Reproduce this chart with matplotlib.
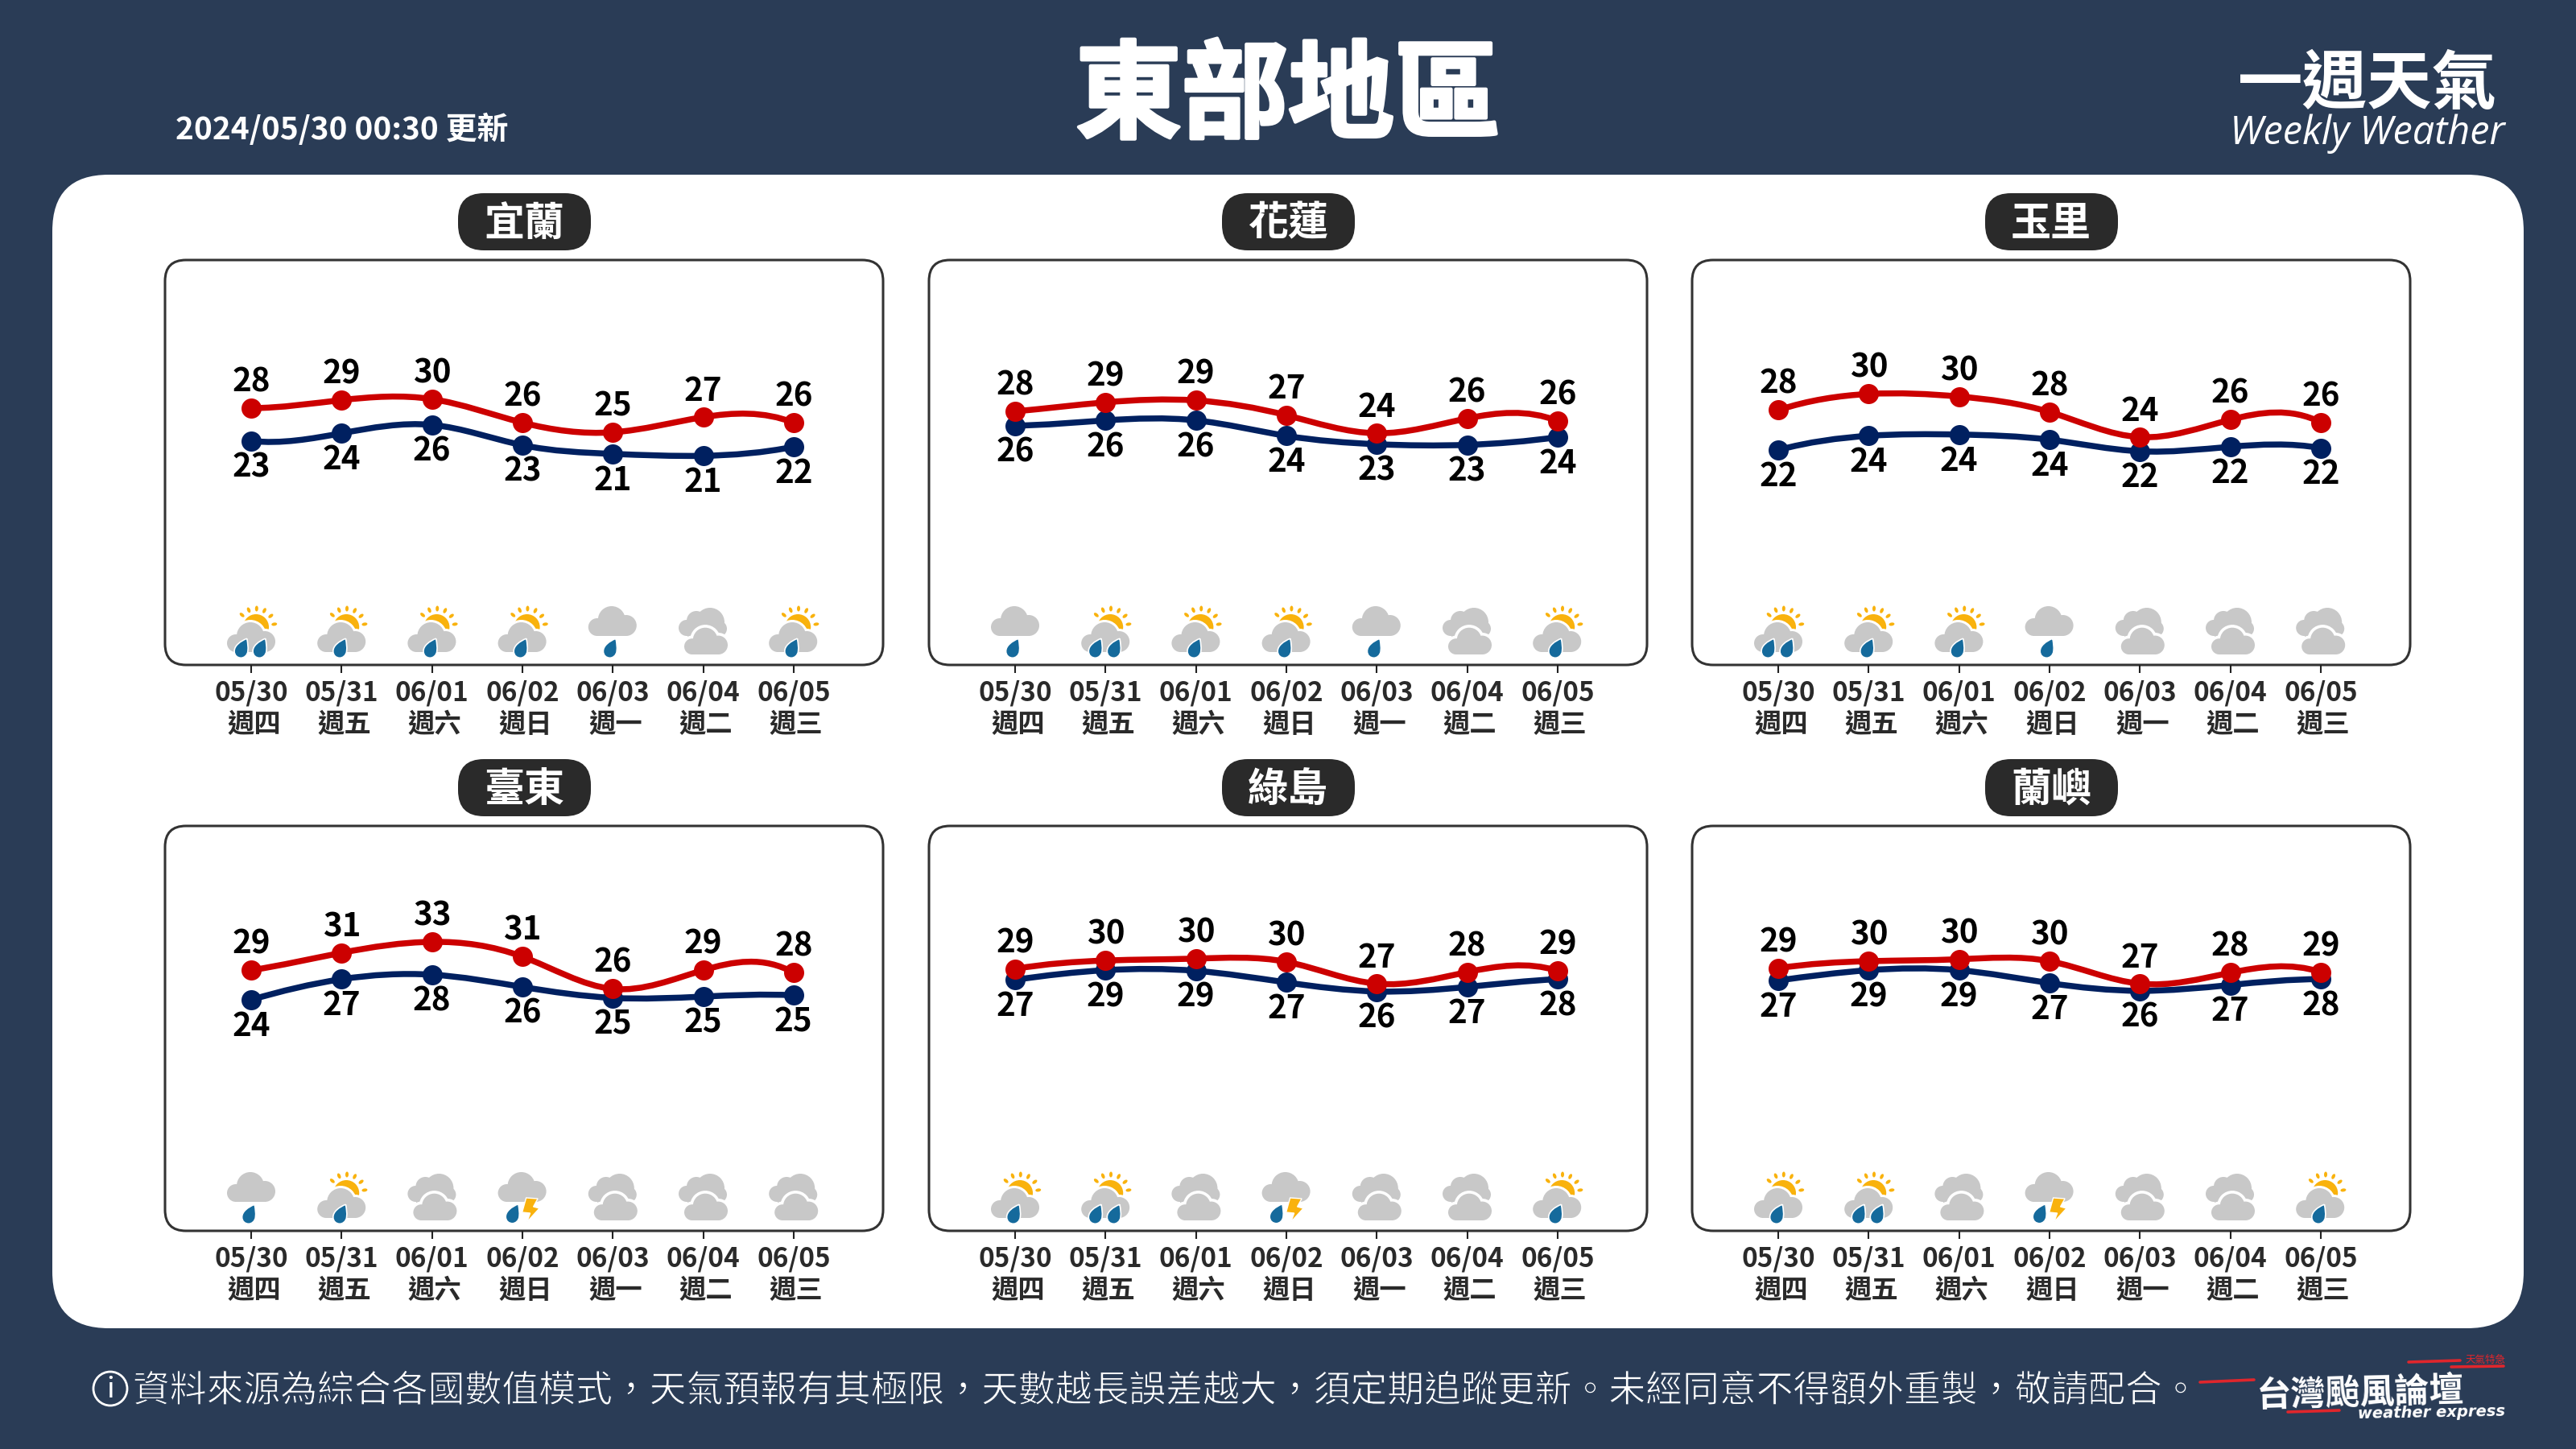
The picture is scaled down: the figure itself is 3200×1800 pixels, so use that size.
import numpy as np
import matplotlib
matplotlib.use('Agg')
import matplotlib.pyplot as plt
import matplotlib.patheffects as pe
from matplotlib.patches import Circle, Rectangle, FancyBboxPatch, PathPatch, Ellipse, Polygon
from matplotlib.path import Path
from matplotlib.transforms import Affine2D

plt.rcParams['font.family'] = ['Noto Sans CJK TC', 'DejaVu Sans']

# values
dates = ['05/30', '05/31', '06/01', '06/02', '06/03', '06/04', '06/05']
weekdays = ['週四', '週五', '週六', '週日', '週一', '週二', '週三']
stations = ['宜蘭', '花蓮', '玉里', '臺東', '綠島', '蘭嶼']

yilan_high = [28.4, 29.65, 29.8, 26.15, 24.65, 27.0, 26.15]
yilan_low = [23.3, 24.5, 25.8, 22.65, 21.3, 21.0, 22.4]
yilan_high_lbl = [28, 29, 30, 26, 25, 27, 26]
yilan_low_lbl = [23, 24, 26, 23, 21, 21, 22]
yilan_icons = ['sun2', 'sun1', 'sun1', 'sun1', 'rain', 'cloudy', 'sun1']

hualien_high = [27.9, 29.3, 29.6, 27.3, 24.5, 26.8, 26.4]
hualien_low = [25.7, 26.5, 26.5, 24.1, 22.8, 22.7, 23.9]
hualien_high_lbl = [28, 29, 29, 27, 24, 26, 26]
hualien_low_lbl = [26, 26, 26, 24, 23, 23, 24]
hualien_icons = ['rain', 'sun2', 'sun1', 'sun1', 'rain', 'cloudy', 'sun1']

yuli_high = [28.1, 30.6, 30.2, 27.8, 23.9, 26.6, 26.2]
yuli_low = [21.9, 24.1, 24.3, 23.5, 21.7, 22.4, 22.2]
yuli_high_lbl = [28, 30, 30, 28, 24, 26, 26]
yuli_low_lbl = [22, 24, 24, 24, 22, 22, 22]
yuli_icons = ['sun2', 'sun1', 'sun1', 'rain', 'cloudy', 'cloudy', 'cloudy']

taitung_high = [29.0, 31.7, 33.4, 31.1, 26.1, 29.0, 28.6]
taitung_low = [24.4, 27.6, 28.3, 26.4, 24.7, 24.9, 25.1]
taitung_high_lbl = [29, 31, 33, 31, 26, 29, 28]
taitung_low_lbl = [24, 27, 28, 26, 25, 25, 25]
taitung_icons = ['rain', 'sun1', 'cloudy', 'thunder', 'cloudy', 'cloudy', 'cloudy']

green_high = [29.2, 30.5, 30.8, 30.3, 26.9, 28.7, 28.9]
green_low = [27.5, 29.0, 28.9, 27.1, 25.7, 26.4, 27.6]
green_high_lbl = [29, 30, 30, 30, 27, 28, 29]
green_low_lbl = [27, 29, 29, 27, 26, 27, 28]
green_icons = ['sun1', 'sun2', 'cloudy', 'thunder', 'cloudy', 'cloudy', 'sun1']

orchid_high = [29.3, 30.4, 30.7, 30.4, 26.9, 28.6, 28.7]
orchid_low = [27.4, 29.0, 29.0, 27.0, 25.8, 26.7, 27.6]
orchid_high_lbl = [29, 30, 30, 30, 27, 28, 29]
orchid_low_lbl = [27, 29, 29, 27, 26, 27, 28]
orchid_icons = ['sun1', 'sun2', 'cloudy', 'thunder', 'cloudy', 'cloudy', 'sun1']

panels = [
    (yilan_high, yilan_low, yilan_high_lbl, yilan_low_lbl, yilan_icons),
    (hualien_high, hualien_low, hualien_high_lbl, hualien_low_lbl, hualien_icons),
    (yuli_high, yuli_low, yuli_high_lbl, yuli_low_lbl, yuli_icons),
    (taitung_high, taitung_low, taitung_high_lbl, taitung_low_lbl, taitung_icons),
    (green_high, green_low, green_high_lbl, green_low_lbl, green_icons),
    (orchid_high, orchid_low, orchid_high_lbl, orchid_low_lbl, orchid_icons),
]

BG = '#2A3C56'
DARK = '#2A2A2A'
CLOUD = '#C8C8C8'
DROP = '#156A9C'
SUN = '#F9B20D'
RED = '#E0262C'

panel_x = [205, 1154, 2102]
panel_y = [323, 1026]
panel_w = 892
panel_h = 503

fig = plt.figure(figsize=(32, 18), dpi=100, facecolor=BG)

# pixel space layer for the background, boxes and icons
ov = fig.add_axes([0, 0, 1, 1], zorder=0)
ov.set_xlim(0, 3200)
ov.set_ylim(1800, 0)
ov.axis('off')


def spline_path(xs, ys):
    # not-a-knot cubic spline written as bezier segments
    n = len(ys)
    delta = np.diff(ys)
    A = np.zeros((n, n))
    b = np.zeros(n)
    A[0, 0], A[0, 2] = 1, -1
    b[0] = 2 * (delta[0] - delta[1])
    A[-1, -3], A[-1, -1] = 1, -1
    b[-1] = 2 * (delta[-2] - delta[-1])
    for i in range(1, n - 1):
        A[i, i - 1], A[i, i], A[i, i + 1] = 1, 4, 1
        b[i] = 3 * (ys[i + 1] - ys[i - 1])
    d = np.linalg.solve(A, b)
    verts = [(xs[0], ys[0])]
    codes = [Path.MOVETO]
    for i in range(n - 1):
        verts += [(xs[i] + 1 / 3, ys[i] + d[i] / 3), (xs[i + 1] - 1 / 3, ys[i + 1] - d[i + 1] / 3), (xs[i + 1], ys[i + 1])]
        codes += [Path.CURVE4] * 3
    return Path(verts, codes)


def local(x, y, s=1.0):
    return Affine2D().scale(s).translate(x, y) + ov.transData


def draw_cloud(x, y, s=1.0, halo=0, parts=None, z=4):
    if parts is None:
        parts = [((-19, -11), 11), ((-1, -20), 17), ((17, -13), 13)]
    tr = local(x, y, s)
    if halo:
        for c, r in parts:
            ov.add_patch(Circle(c, r + halo, fc='white', ec='none', transform=tr, zorder=z))
    for c, r in parts:
        ov.add_patch(Circle(c, r, fc=CLOUD, ec='none', transform=tr, zorder=z + 1))
    ov.add_patch(Rectangle((-19, -13), 36, 13, fc=CLOUD, ec='none', transform=tr, zorder=z + 1))


def draw_drop(x, y):
    verts = [(6.5, -11), (7.5, -5), (8, -2), (7.5, 3), (7, 8), (3, 10.5), (0, 10.5),
             (-4, 10.5), (-7.5, 8), (-7.5, 3), (-7.5, -3), (-1, -8), (6.5, -11)]
    codes = [Path.MOVETO] + [Path.CURVE4] * 12
    ov.add_patch(PathPatch(Path(verts, codes), fc=DROP, ec='white', lw=1.2, transform=local(x, y, 1.12), zorder=8))


def draw_sun(x, y):
    tr = local(x, y)
    ov.add_patch(Circle((0, 0), 16, fc=SUN, ec='none', transform=tr, zorder=3))
    for ang in [139, 113, 88, 63, 37, 9]:
        t = Affine2D().rotate_deg(-ang).translate(23 * np.cos(np.radians(ang)), -23 * np.sin(np.radians(ang))) + tr
        ov.add_patch(Ellipse((0, 0), 7, 4, fc=SUN, ec='none', transform=t, zorder=3))


def draw_icon(kind, x, y):
    if kind in ('sun1', 'sun2'):
        draw_sun(x + 6, y - 47)
        draw_cloud(x, y - 16, halo=3)
        if kind == 'sun2':
            draw_drop(x - 12.5, y - 20.5)
            draw_drop(x + 10.5, y - 20.5)
        else:
            draw_drop(x - 2, y - 20.5)
    elif kind == 'rain':
        draw_cloud(x, y - 36)
        draw_drop(x - 3, y - 20.5)
    elif kind == 'cloudy':
        back = [((-20, -13), 10), ((-8, -22), 12), ((9, -20), 18), ((20, -12), 10)]
        draw_cloud(x, y - 33, parts=back, z=3)
        draw_cloud(x + 4, y - 13, s=0.9, halo=4, z=5)
    elif kind == 'thunder':
        draw_cloud(x, y - 36)
        draw_drop(x - 12, y - 21)
        bolt = [(5, -41), (19.5, -40), (14, -30), (21.5, -28), (6, -11), (10, -22), (0, -23)]
        ov.add_patch(Polygon(bolt, closed=True, fc=SUN, ec='white', lw=1, transform=local(x, y), zorder=8))


# white sheet
ov.add_patch(FancyBboxPatch((65 + 70, 217 + 70), 3070 - 140, 1433 - 140,
                            boxstyle='round,pad=70,rounding_size=70', fc='white', ec='none', zorder=1))

for k in range(6):
    high, low, high_lbl, low_lbl, icons = panels[k]
    x0 = panel_x[k % 3]
    y0 = panel_y[k // 3]

    ov.add_patch(FancyBboxPatch((x0 + 26, y0 + 26), panel_w - 52, panel_h - 52,
                                boxstyle='round,pad=26,rounding_size=26', fc='white', ec='#333333', lw=2.2, zorder=2))
    cx = x0 + panel_w / 2
    ov.add_patch(FancyBboxPatch((cx - 82 + 32, y0 - 83 + 32), 165 - 64, 71 - 64,
                                boxstyle='round,pad=32,rounding_size=32', fc=DARK, ec='none', zorder=2))
    ov.text(cx, y0 - 45, stations[k], color='white', fontsize=36, fontweight='bold', ha='center', va='center', zorder=3)

    ax = fig.add_axes([x0 / 3200, 1 - (y0 + panel_h) / 1800, panel_w / 3200, panel_h / 1800], zorder=1)
    ax.patch.set_alpha(0)
    for s in ax.spines.values():
        s.set_visible(False)
    ax.set_xlim(-0.954, 6.99)
    ax.set_ylim(-11.475, 51.4)
    ax.set_yticks([])
    ax.set_xticks(range(7))
    ax.set_xticklabels(dates, fontsize=24, fontweight='bold', color=DARK)
    ax.tick_params(axis='x', length=7.5, width=1.5, color='#222222', pad=6)

    x = np.arange(7)
    for vals, col in [(low, '#002060'), (high, '#CC0000')]:
        ax.add_patch(PathPatch(spline_path(x, vals), fc='none', ec=col, lw=5.4, zorder=3))
        ax.plot(x, vals, ls='none', marker='o', ms=18, color=col, mec='none', zorder=4)

    for i in range(7):
        ax.annotate(str(high_lbl[i]), (i, high[i]), xytext=(0, 23), textcoords='offset points',
                    ha='center', va='center', fontsize=29, fontweight='bold', color='black', zorder=5)
        ax.annotate(str(low_lbl[i]), (i, low[i]), xytext=(0, -24), textcoords='offset points',
                    ha='center', va='center', fontsize=29, fontweight='bold', color='black', zorder=5)
        ax.annotate(weekdays[i], (i, 0), xycoords=ax.get_xaxis_transform(), xytext=(2.5, -53.5),
                    textcoords='offset points', ha='center', va='center', fontsize=24, fontweight='bold', color=DARK)
        draw_icon(icons[i], x0 + 107 + i * 112.2, y0 + panel_h)

# header
fig_text = ov.text(1600, 122, '東部地區', color='white', fontsize=95, fontweight='bold', ha='center', va='center')
fig_text.set_path_effects([pe.withStroke(linewidth=3, foreground='white')])
ov.text(218, 161, '2024/05/30 00:30 更新', color='white', fontsize=28, fontweight='bold', ha='left', va='center')
ov.text(2941, 105, '一週天氣', color='white', fontsize=58, fontweight='bold', ha='center', va='center')
ov.text(2941, 166, 'Weekly Weather', color='white', fontsize=35, family='Open Sans', style='italic', ha='center', va='center')

# footer
ov.add_patch(Circle((137, 1725), 21, fc='none', ec='white', lw=2))
ov.text(137, 1727, 'i', color='white', fontsize=25, ha='center', va='center')
note = ov.text(165, 1728, '資料來源為綜合各國數值模式，天氣預報有其極限，天數越長誤差越大，須定期追蹤更新。未經同意不得額外重製，敬請配合。',
               color='white', fontsize=33, ha='left', va='center')
note.set_path_effects([pe.Stroke(linewidth=0.7, foreground=BG)])

# logo
for (xa, ya, xb, yb) in [(2733, 1717, 2800, 1714), (2992, 1692, 3056, 1690), (3045, 1698, 3110, 1697), (2842, 1754, 2906, 1752)]:
    ov.plot([xa, xb], [ya, yb], color=RED, lw=2.6, solid_capstyle='round')
ov.text(2932, 1730, '台灣颱風論壇', color='white', fontsize=31, fontweight='bold', ha='center', va='center', rotation=1.5)
ov.text(3020, 1755, 'weather express', color='white', fontsize=14, family='DejaVu Sans', style='italic', fontweight='bold',
        ha='center', va='center', rotation=1)
ov.text(3087, 1690, '天氣特急', color=RED, fontsize=9, ha='center', va='center')

fig.savefig('out.png', dpi=100, facecolor=BG)
